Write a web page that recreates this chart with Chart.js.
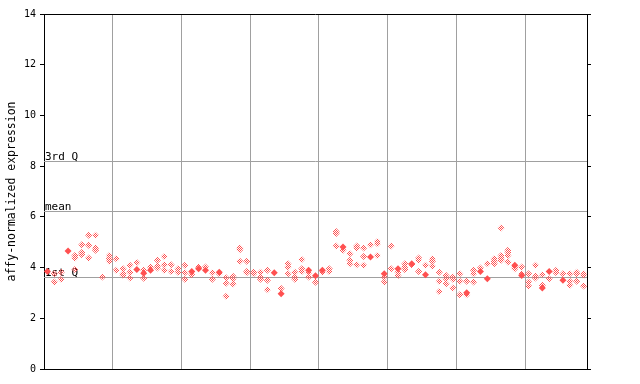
<!DOCTYPE html>
<html>
<head>
<meta charset="utf-8">
<script src="https://cdn.jsdelivr.net/npm/chart.js@4/dist/chart.umd.min.js"></script>
<style>
  html, body { margin: 0; padding: 0; background: #fff; }
</style>
</head>
<body>
<canvas id="exprChart" width="640" height="384"></canvas>
<script>
// one column per sample, 79 columns in 8 groups
const hatched = [
    [], [3.76, 3.43], [3.82, 3.54], [], [4.48, 4.38, 3.92],
    [4.9, 4.59, 4.51], [5.27, 4.88, 4.38], [5.27, 4.77, 4.68], [3.63], [4.48, 4.35, 4.25],
    [4.35, 3.89], [3.95, 3.76, 3.7], [4.09, 3.82, 3.59], [4.2], [3.9, 3.58],
    [4.02], [4.29, 4.06, 3.98], [4.44, 4.11, 3.89], [4.11, 3.85], [3.95, 3.82],
    [4.09, 3.8, 3.54], [3.72], [4.02], [4.02], [3.8, 3.54],
    [3.76], [3.6, 3.38, 2.87], [3.66, 3.56, 3.35], [4.77, 4.7, 4.25], [4.25, 3.85, 3.8],
    [3.82, 3.76], [3.82, 3.63, 3.54], [3.89, 3.5, 3.13], [], [3.17],
    [4.15, 4.02, 3.76], [3.82, 3.63, 3.54], [4.32, 3.95, 3.85], [3.8, 3.63], [3.42],
    [3.82], [3.95, 3.85], [5.42, 5.34, 4.85], [4.68], [4.55, 4.29, 4.15],
    [4.85, 4.77, 4.11], [4.77, 4.44, 4.09], [4.9], [5.03, 4.94, 4.48], [3.63, 3.43],
    [4.85, 3.95], [3.82, 3.69], [4.15, 4.02, 3.92], [4.11], [4.38, 4.29, 3.85],
    [4.09], [4.35, 4.25, 4.05], [3.82, 3.46, 3.06], [3.69, 3.56, 3.36], [3.63, 3.54, 3.19],
    [3.76, 3.46, 2.93], [3.46, 2.93], [3.89, 3.76, 3.43], [3.98], [4.15],
    [4.35, 4.25, 4.15], [5.56, 4.48, 4.38, 4.29], [4.68, 4.59, 4.48, 4.22], [4.02, 3.95], [4.02, 3.76],
    [3.76, 3.43, 3.27], [4.09, 3.67, 3.59], [3.72, 3.3], [3.56], [3.89, 3.8],
    [3.76], [3.76, 3.46, 3.3], [3.82, 3.76, 3.46], [3.76, 3.69, 3.27]
];

const solid = [
    3.85, null, null, 4.65, null, null, null, null, null, null,
    null, null, null, 3.92, 3.78, 3.89, null, null, null, null,
    null, 3.85, 3.95, 3.89, null, 3.82, null, null, null, null,
    null, null, null, 3.8, 2.97, null, null, null, 3.89, 3.68,
    3.89, null, null, 4.81, null, null, null, 4.42, null, 3.76,
    null, 3.95, null, 4.15, null, 3.72, null, null, null, null,
    null, 3.01, null, 3.85, 3.56, null, null, null, 4.09, 3.69,
    null, null, 3.19, 3.85, null, 3.5, null, null, null
];

const groupEdges = [9.5, 19.5, 29.5, 39.5, 49.5, 59.5, 69.5];
const quantileNames = ['1st Q', 'mean', '3rd Q'];
const quantileValues = [3.62, 6.23, 8.21];
const yTicks = [0, 2, 4, 6, 8, 10, 12, 14];

const red = '#ff5050';
const gridGrey = '#a0a0a0';
const mono = 'DejaVu Sans Mono';

// red/white checkerboard for the open diamonds
const tile = document.createElement('canvas');
tile.width = 2;
tile.height = 2;
const tctx = tile.getContext('2d');
tctx.fillStyle = red;
tctx.fillRect(0, 0, 1, 1);
tctx.fillRect(1, 1, 1, 1);
const ctx = document.getElementById('exprChart').getContext('2d');
const checker = ctx.createPattern(tile, 'repeat');

const hatchedPoints = [];
hatched.forEach((vals, i) => vals.forEach(v => hatchedPoints.push({ x: i, y: v })));
const solidPoints = [];
solid.forEach((v, i) => { if (v !== null) solidPoints.push({ x: i, y: v }); });

const quantiles = {
    id: 'quantiles',
    beforeDatasetsDraw(chart) {
        const { ctx, chartArea } = chart;
        const y = chart.scales.y;
        ctx.save();
        ctx.strokeStyle = gridGrey;
        ctx.lineWidth = 1;
        ctx.fillStyle = '#000';
        ctx.font = '11px "' + mono + '"';
        ctx.textAlign = 'left';
        ctx.textBaseline = 'alphabetic';
        quantileValues.forEach((q, i) => {
            const py = Math.round(y.getPixelForValue(q)) + 0.5;
            ctx.beginPath();
            ctx.moveTo(chartArea.left, py);
            ctx.lineTo(chartArea.right, py);
            ctx.stroke();
            ctx.fillText(quantileNames[i], chartArea.left + 1, py - 1.5);
        });
        ctx.restore();
    },
    afterDraw(chart) {
        const { ctx, chartArea } = chart;
        ctx.save();
        ctx.strokeStyle = '#000';
        ctx.lineWidth = 1;
        ctx.beginPath();
        ctx.moveTo(chartArea.left, Math.round(chartArea.top) + 0.5);
        ctx.lineTo(chartArea.right, Math.round(chartArea.top) + 0.5);
        ctx.stroke();
        ctx.restore();
    }
};

new Chart(ctx, {
    type: 'scatter',
    data: {
        datasets: [
            {
                label: 'replicates',
                data: hatchedPoints,
                pointStyle: 'rectRot',
                pointRadius: 3.5,
                pointBorderWidth: 0,
                backgroundColor: checker,
                borderColor: 'rgba(0,0,0,0)',
            },
            {
                label: 'sample',
                data: solidPoints,
                pointStyle: 'rectRot',
                pointRadius: 3.5,
                pointBorderWidth: 0,
                backgroundColor: red,
                borderColor: 'rgba(0,0,0,0)',
            },
        ],
    },
    options: {
        responsive: false,
        animation: false,
        events: [],
        layout: { padding: { left: 0, top: 14, right: 48, bottom: 15 } },
        plugins: {
            legend: { display: false },
            tooltip: { enabled: false },
        },
        scales: {
            x: {
                type: 'linear',
                min: -0.5,
                max: 78.5,
                afterBuildTicks: (scale) => { scale.ticks = groupEdges.map(v => ({ value: v })); },
                afterFit: (scale) => { scale.height = 0; },
                ticks: { display: false },
                grid: { color: gridGrey, lineWidth: 1, drawTicks: false },
                border: { display: true, color: '#000', width: 1 },
            },
            y: {
                min: 0,
                max: 14,
                afterBuildTicks: (scale) => { scale.ticks = yTicks.map(v => ({ value: v })); },
                afterFit: (scale) => { scale.width = 44; },
                ticks: {
                    color: '#000',
                    padding: 4,
                    font: { family: mono, size: 10 },
                },
                grid: {
                    drawOnChartArea: false,
                    drawTicks: true,
                    tickLength: 4,
                    color: '#000',
                },
                border: { display: true, color: '#000', width: 1 },
                title: {
                    display: true,
                    text: 'affy-normalized expression',
                    color: '#000',
                    font: { family: mono, size: 11.5 },
                    padding: { top: 5, bottom: 0 },
                },
            },
            y2: {
                position: 'right',
                min: 0,
                max: 14,
                afterBuildTicks: (scale) => { scale.ticks = yTicks.map(v => ({ value: v })); },
                afterFit: (scale) => { scale.width = 5; },
                ticks: { callback: () => '', padding: 0 },
                grid: {
                    drawOnChartArea: false,
                    drawTicks: true,
                    tickLength: 4,
                    color: '#000',
                },
                border: { display: true, color: '#000', width: 1 },
            },
        },
    },
    plugins: [quantiles],
});
</script>
</body>
</html>
